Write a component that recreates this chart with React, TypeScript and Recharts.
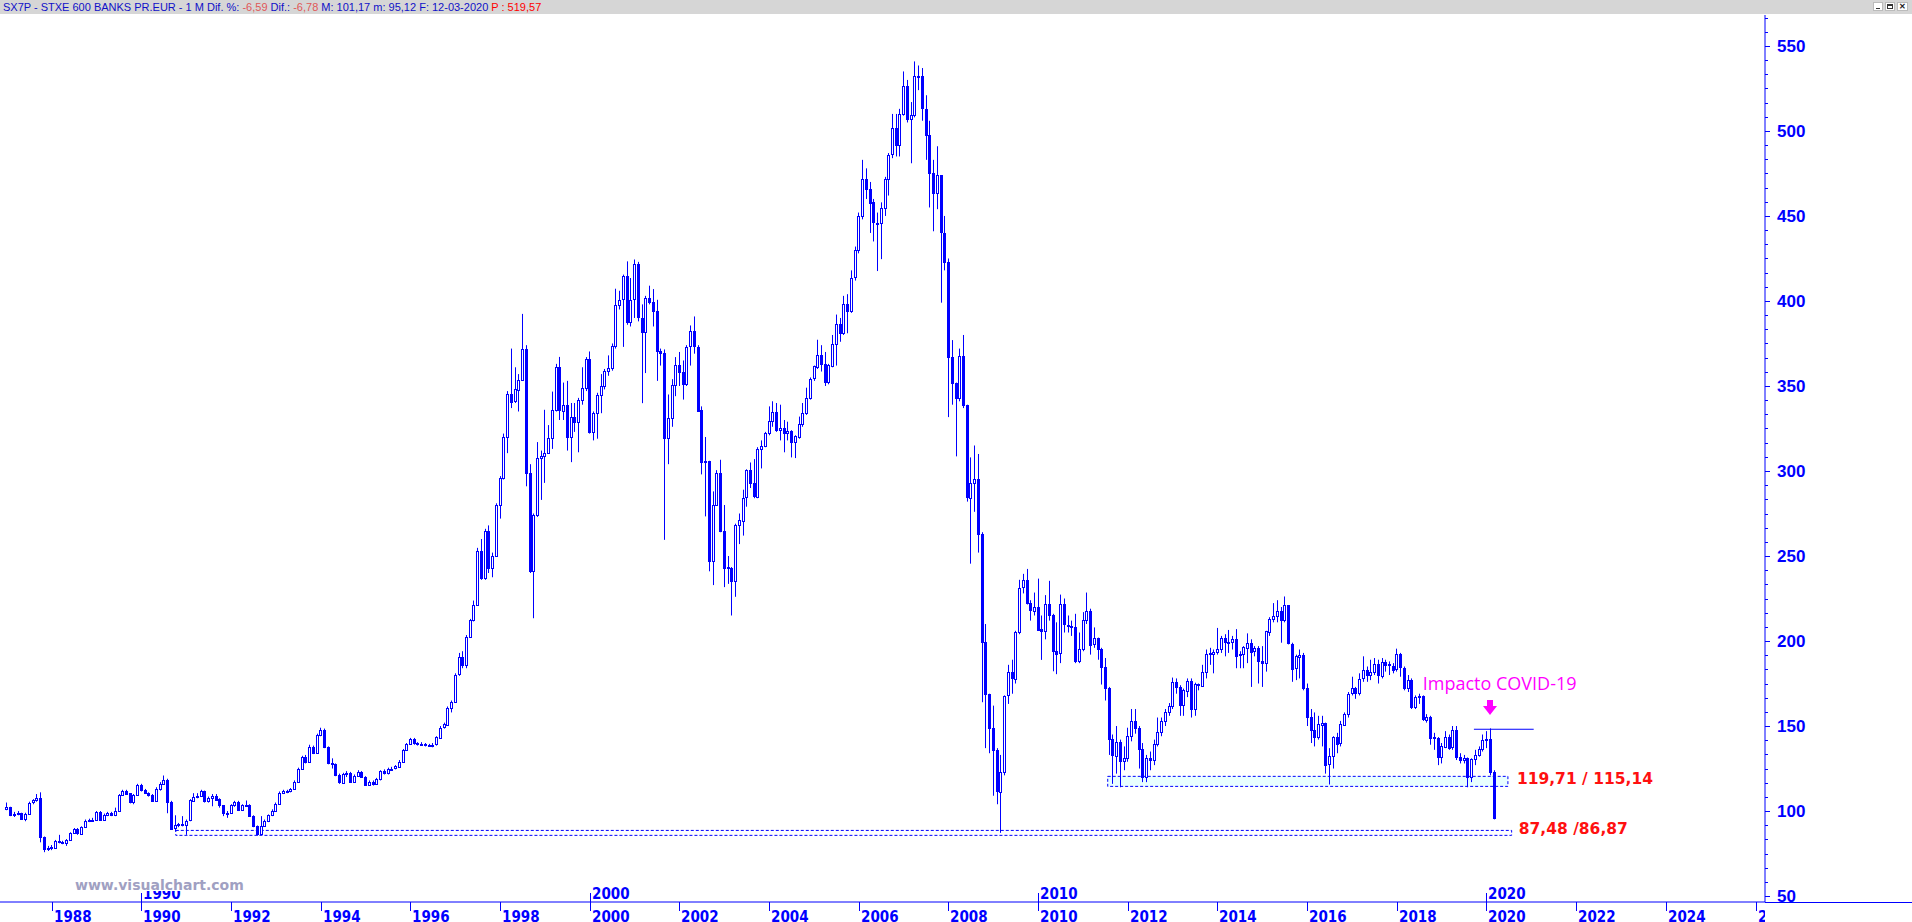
import React from 'react';
import { ComposedChart, Bar, XAxis, YAxis, ReferenceArea, ReferenceLine, ReferenceDot } from 'recharts';

// ---- Monthly closes (Jan 1987 .. Mar 2020) ----
const FIRST_OPEN = 101;
const closes1987_1996 = [
  102.2, 97.7, 98.3, 98.9, 95.6, 98.3, 104.8, 106.2, 107.5, 84.6, 77.7, 78.3,
  78.7, 82.6, 81.8, 81.4, 83.0, 87.1, 89.3, 86.7, 90.7, 94.4, 94.8, 95.0,
  99.5, 95.0, 97.7, 99.1, 97.7, 100.3, 109.5, 112.0, 110.5, 105.4, 109.5, 115.6,
  112.4, 110.9, 109.7, 106.2, 113.0, 116.0, 118.3, 105.6, 89.9, 91.8, 92.4, 92.2,
  94.4, 106.2, 108.5, 109.1, 111.8, 105.8, 107.7, 109.1, 107.0, 103.4, 98.7, 98.9,
  103.6, 105.4, 100.7, 103.6, 103.8, 97.1, 91.1, 86.5, 91.3, 94.0, 97.7, 100.3,
  104.4, 110.7, 111.6, 111.6, 113.0, 117.3, 124.8, 132.0, 129.3, 137.9, 134.4, 144.8,
  147.7, 137.5, 128.1, 127.7, 121.1, 116.7, 122.0, 122.6, 117.5, 120.9, 123.2, 120.3,
  115.8, 117.3, 116.0, 118.7, 123.6, 122.2, 124.8, 125.0, 126.2, 129.1, 136.0, 139.5,
  142.4, 139.9, 139.1, 139.5, 138.7, 138.7, 139.1, 143.4, 149.1, 150.9, 160.7, 164.2,
];
const closes1997_2006 = [
  180.3, 190.5, 186.0, 202.6, 212.4, 221.3, 253.2, 237.1, 264.8, 243.0, 250.1, 280.1,
  296.0, 320.1, 345.4, 340.7, 348.0, 353.6, 371.8, 298.9, 241.1, 274.2, 307.7, 308.9,
  310.7, 319.5, 336.0, 361.1, 335.6, 338.9, 319.9, 331.8, 328.7, 341.8, 348.9, 366.0,
  322.8, 334.2, 344.8, 350.1, 359.0, 360.7, 373.6, 397.8, 400.7, 414.4, 387.6, 400.7,
  421.5, 390.1, 381.7, 401.9, 399.3, 394.0, 370.5, 369.3, 319.5, 331.3, 350.7, 362.5,
  358.5, 351.7, 373.2, 382.1, 373.2, 335.6, 305.2, 305.6, 247.0, 280.1, 298.9, 265.0,
  243.4, 243.0, 235.2, 268.0, 270.9, 284.2, 300.3, 292.9, 285.0, 313.0, 314.8, 322.5,
  329.5, 334.8, 324.3, 325.4, 322.3, 323.5, 317.0, 320.3, 327.8, 334.3, 343.1, 354.3,
  361.5, 368.4, 363.1, 352.3, 362.1, 374.8, 386.6, 381.3, 398.4, 394.1, 413.7, 429.8,
  450, 472, 466, 458, 446, 446, 454.7, 471.7, 486.1, 501.5, 491.7, 510.1,
];
const closes2007_2016 = [
  526.4, 507.1, 509.5, 532.6, 532.3, 513.2, 497.8, 475.4, 463.4, 473.8, 440.0, 423.1,
  367.0, 351.7, 343.1, 367.7, 338.7, 284.6, 293.2, 295.4, 263.0, 199.4, 168.6, 148.6,
  135.7, 111.4, 123.1, 167.7, 181.5, 177.8, 205.5, 231.3, 235.6, 222.2, 217.9, 220.3,
  206.9, 205.8, 221.5, 215.2, 194.0, 192.4, 221.5, 209.7, 209.1, 208.5, 188.5, 195.4,
  212.4, 217.9, 198.1, 201.8, 195.2, 184.6, 172.4, 142.2, 132.6, 140.7, 129.3, 131.3,
  144.2, 153.0, 148.7, 136.4, 119.9, 131.3, 130.3, 139.5, 146.5, 153.0, 158.3, 162.0,
  176.0, 172.8, 162.2, 170.9, 176.5, 160.1, 174.8, 174.0, 182.0, 192.4, 192.8, 193.8,
  195.4, 201.8, 199.5, 199.7, 201.4, 191.5, 192.2, 196.2, 199.1, 193.8, 195.8, 188.1,
  187.0, 205.6, 213.1, 214.6, 217.6, 212.1, 220.9, 198.3, 183.6, 190.9, 191.9, 172.5,
  155.2, 147.8, 143.4, 150.9, 151.9, 127.2, 132.1, 143.4, 139.5, 150.9, 157.2, 168.9,
];
const closes2017_2020 = [
  172.1, 169.3, 177.8, 182.7, 179.7, 181.7, 186.2, 179.7, 187.9, 186.2, 185.6, 183.2,
  192.1, 184.2, 172.3, 177.2, 161.1, 167.0, 167.4, 153.6, 155.6, 143.4, 143.0, 131.7,
  138.0, 143.8, 137.6, 147.8, 131.7, 130.1, 131.0, 119.9, 130.7, 133.2, 136.6, 141.9,
  142.5, 123.2, 96.0,
];

const highs1987_1996 = [
  105, 102.5, 99.5, 100, 99, 99, 105.5, 107, 110, 111, 85, 79.5,
  80, 83, 86, 82.5, 83.5, 87.5, 90, 90, 91, 95, 95.5, 96,
  100, 100, 98.5, 99.5, 99.5, 102, 110, 112.5, 112.5, 110.5, 110, 116,
  116, 113, 111, 110, 114, 117, 120.9, 119, 106, 97.5, 93, 97,
  95, 107, 110.5, 110.5, 112.5, 112, 108.5, 110, 110, 107.5, 103.5, 100,
  104, 106, 106, 104, 106.2, 104, 97.5, 91.5, 97, 95, 98, 101,
  105, 111.5, 112.5, 112.5, 113.5, 118, 125.5, 132.5, 133, 139, 138.5, 145.5,
  149, 148.5, 138, 131, 128, 122, 122.5, 123.5, 123, 121.5, 124, 123.5,
  120.5, 118, 118, 119.5, 124, 124.5, 125.5, 126, 127, 130, 136.5, 140,
  143, 143, 140.5, 140.5, 140, 139.5, 140, 144, 150, 152, 161.5, 165,
];
const highs1997_2006 = [
  181, 193, 194, 203.5, 213, 223.8, 254.8, 260, 266, 268, 252, 281,
  297, 322, 347, 372, 361, 357, 392.4, 374, 304, 275, 317, 312,
  336, 327, 346.7, 363, 367.1, 352, 353, 340, 340, 343, 361, 367,
  370.3, 335, 346, 357, 360, 368, 375, 407.2, 406, 415.5, 423.3, 413.5,
  424.4, 423, 398, 403, 409, 407, 400.7, 372, 371.5, 345, 354, 367,
  370, 365, 374, 385.6, 390.9, 374, 338, 320, 306, 288, 300.5, 306.6,
  280, 250, 243.5, 269, 275, 289, 301, 305, 307, 314, 318, 323,
  338, 341, 340, 339, 330, 329, 324, 321, 332, 340, 349, 355,
  362, 377.2, 374, 370, 363, 380, 392, 390, 403, 404, 418, 432,
  452, 483, 478, 470, 460, 452, 458, 473, 487, 510, 510, 513,
];
const highs2007_2016 = [
  535, 530, 517, 540.9, 538.5, 537, 521, 506, 483, 491, 474, 450,
  425, 377, 352, 372, 380, 339, 308, 315, 310, 264, 210, 169,
  162, 137, 133, 168, 186, 189, 206, 236, 239.5, 242.4, 224, 228.5,
  236.7, 215, 227, 235.4, 216, 211, 227.3, 225, 215, 212, 216, 205,
  217, 228.5, 219, 208, 202, 196, 190, 173, 145, 150, 142, 138,
  149, 160, 160, 150, 140, 133, 135, 142, 155, 155, 160, 163.5,
  178.5, 178, 174, 172, 178, 178, 175.5, 175, 186, 195, 196, 195,
  207.7, 203, 204, 206.5, 203, 207, 194, 197, 204.5, 201, 197, 197,
  197, 206, 214, 222.3, 224, 220, 226.2, 221, 199, 192, 195, 193,
  175, 160, 158, 156, 156, 152, 137, 144, 146, 153, 158, 170,
];
const highs2017_2020 = [
  179, 173, 181, 191, 185, 189, 190, 189, 190, 189, 188, 187,
  195.5, 193, 185, 180, 178, 168, 169, 168, 157, 156, 146, 143.5,
  140, 147, 145, 150, 150, 134, 133, 131.5, 131, 136, 138, 145,
  147, 148.6, 124,
];

const lows1987_1996 = [
  100.5, 97, 96.5, 97.5, 95, 94, 98, 104, 105.5, 81.6, 75.8, 76.5,
  77, 78, 81, 80.5, 79.5, 82.5, 86.5, 86, 86, 90, 93.5, 94,
  94.5, 94.5, 94.5, 97, 97, 97, 100, 109, 110, 104.5, 104, 109,
  111.5, 110, 108.5, 105.5, 106, 112, 115.5, 98.7, 89, 88, 90.5, 91,
  86, 94, 106, 107.5, 108.5, 105, 105, 102.8, 106.5, 102, 97, 96,
  98.5, 102.5, 100, 100, 103, 96.5, 90.5, 85.5, 86, 91, 93.5, 97,
  100, 104, 110, 110.5, 111, 112.5, 117, 124.5, 128, 129, 133.5, 134,
  144, 137, 127.5, 125, 120.5, 116, 116, 120, 117, 117, 120.5, 119.5,
  115.3, 115.5, 115, 115.5, 118, 121.5, 121.5, 124, 124.5, 125.5, 128.5, 135.5,
  139, 139, 138.5, 138.5, 138, 138, 137.5, 138.5, 143, 148.5, 150.5, 158,
];
const lows1997_2006 = [
  164, 179.5, 184, 184, 202, 211.5, 221, 236, 236, 240, 237.5, 249.5,
  272, 295, 310.5, 337, 340, 335, 353, 291, 240, 213.4, 273, 283,
  293, 310, 313, 335, 330, 330, 312, 305.2, 323, 311, 339, 347,
  322, 318, 319, 334, 348, 356, 359, 372, 395, 373, 386, 385,
  390, 388, 339.9, 357.6, 398, 385, 353, 362, 259.5, 304, 326, 344,
  350, 342, 350, 362, 369, 335, 298, 273.3, 241, 232.9, 280, 264,
  231.7, 233.6, 215, 226, 257, 262, 279, 290, 284, 284, 301.5, 314,
  321, 326, 323, 318, 311, 318, 308, 307.6, 319, 326, 333, 342,
  353, 360, 358.5, 350, 351, 361, 362, 376, 380, 381, 393, 412,
  428, 448, 460, 440, 435, 417.6, 424.6, 450, 462, 484, 485, 485,
];
const lows2007_2016 = [
  509, 505, 481, 508, 524, 506, 483, 455, 441, 454, 399, 418,
  331.7, 339, 308.6, 341, 337, 282, 245.5, 276, 252, 164, 137, 134,
  109, 104, 87.2, 121, 163, 169, 175, 204, 228, 221.5, 212, 215,
  206, 188.9, 201, 212, 182.2, 180.5, 187, 205, 205, 203, 187, 187,
  194, 210, 192, 196, 189, 174.4, 165, 133, 116, 122, 114, 124,
  129, 141, 145.5, 125, 117, 117, 124, 127, 138, 144, 150, 156,
  160, 169, 156, 156, 167, 155, 156, 171, 173, 178, 186, 181,
  192, 193, 191, 193, 195, 184, 184, 184, 187, 173, 191, 175,
  173, 182, 203, 211, 211, 199, 211, 198, 176, 177, 178, 171,
  150, 140, 138, 142, 138, 122, 115.6, 125, 134, 138, 150, 155,
];
const lows2017_2020 = [
  168, 166, 168, 176, 176, 177, 180, 175, 178, 182, 180, 181,
  182, 179, 171, 170, 160, 160, 163, 153, 152, 139, 136, 127,
  128, 137, 136, 136, 130, 128, 128, 114, 117, 127, 132, 135,
  137, 121, 95.1,
];

// ---- Axes ----
const FIRST_YEAR = 1987;
const xTickYears = [1988, 1990, 1992, 1994, 1996, 1998, 2000, 2002, 2004, 2006, 2008, 2010, 2012, 2014, 2016, 2018, 2020, 2022, 2024, 2026];
const decadeYears = [1990, 2000, 2010, 2020];
const X_DOMAIN = [-1.95, 470.4];
const Y_DOMAIN = [46.5, 568.2];
const yMajorStep = 50;
const yMinorCount = 6;

// ---- Annotations ----
const zoneStart = [294.5, 45.1];
const zoneEnd = [401.6, 402.6];
const zoneLow = [114.5, 85.7];
const zoneHigh = [120.4, 88.6];
const zoneFill = ['#e8ffff', '#ffffff'];
const zoneLabels = ['119,71 / 115,14', '87,48 /86,87'];
const zoneLabelX = [404.0, 404.5];
const zoneLabelY = [115.9, 86.5];
const covidText = 'Impacto COVID-19';
const covidTextPos = { x: 378.8, y: 171.2 };
const covidArrowPos = { x: 396.8, y: 156.5 };
const covidLine = { x1: 392.5, x2: 408.5, y: 148.1 };

const closes = [...closes1987_1996, ...closes1997_2006, ...closes2007_2016, ...closes2017_2020];
const highs = [...highs1987_1996, ...highs1997_2006, ...highs2007_2016, ...highs2017_2020];
const lows = [...lows1987_1996, ...lows1997_2006, ...lows2007_2016, ...lows2017_2020];

const data = closes.map((c, i) => {
  const o = i === 0 ? FIRST_OPEN : closes[i - 1];
  const h = Math.max(highs[i], o, c);
  const l = Math.min(lows[i], o, c);
  return { t: i, o, h, l, c, range: [l, h] };
});

const xTicks = xTickYears.map((y) => (y - FIRST_YEAR) * 12);
const yTicks: number[] = [];
for (let k = 0; ; k++) {
  const v = 50 + (k * yMajorStep) / yMinorCount;
  if (v > Y_DOMAIN[1]) break;
  yTicks.push(v);
}

const BLUE = '#0000ff';

const Candle = (props: any) => {
  const { x, y, width, height, payload } = props;
  if (!payload || height == null) return null;
  const { o, h, l, c } = payload;
  const span = h - l || 1;
  const ppu = height / span;
  const yOf = (v: number) => y + (h - v) * ppu;
  const px = Math.floor(x + width / 2) + 0.5;
  const top = yOf(Math.max(o, c));
  const bot = yOf(Math.min(o, c));
  const up = c >= o;
  return (
    <g>
      <line x1={px} x2={px} y1={y} y2={y + height} stroke={BLUE} strokeWidth={1} />
      <rect x={px - 1} y={Math.round(top) + 0.5} width={2} height={Math.max(Math.round(bot - top), 1)}
        fill={up ? '#ffffff' : BLUE} stroke={BLUE} strokeWidth={1} />
    </g>
  );
};

const XTick = (props: any) => {
  const { x, y, payload } = props;
  const idx = payload.value;
  const year = FIRST_YEAR + Math.round(idx / 12);
  const isDecade = decadeYears.includes(year);
  const px = Math.floor(x) + 0.5;
  const font = { fontFamily: "'Liberation Sans Narrow', 'DejaVu Sans Condensed', sans-serif", fontWeight: 700, fontSize: 15, fill: BLUE };
  return (
    <g>
      <defs>
        <clipPath id={`xclip-${idx}`}>
          <rect x={0} y={0} width={1765} height={930} />
        </clipPath>
      </defs>
      <g clipPath={`url(#xclip-${idx})`}>
        <line x1={px} x2={px} y1={y} y2={y + 9} stroke={BLUE} strokeWidth={1} />
        <text x={px + 1.5} y={y + 20} {...font}>{year}</text>
        {isDecade && (
          <>
            <line x1={px} x2={px} y1={y - 9} y2={y} stroke={BLUE} strokeWidth={1} />
            <text x={px + 1.5} y={y - 3} {...font}>{year}</text>
          </>
        )}
      </g>
    </g>
  );
};

const YTick = (props: any) => {
  const { x, y, payload } = props;
  const v = payload.value;
  const major = Math.abs(v / yMajorStep - Math.round(v / yMajorStep)) < 0.001;
  const py = Math.round(y) + 0.5;
  return (
    <g>
      <defs>
        <clipPath id="yclip">
          <rect x={1700} y={0} width={212} height={902} />
        </clipPath>
      </defs>
      <line x1={x} x2={x + (major ? 5 : 3)} y1={py} y2={py} stroke={BLUE} strokeWidth={1} />
      {major && (
        <text x={x + 12} y={y + 6} clipPath="url(#yclip)" fontFamily="'Liberation Sans', Arial, sans-serif"
          fontWeight={700} fontSize={17} fill={BLUE}>{Math.round(v)}</text>
      )}
    </g>
  );
};

const ZoneLabel = (text: string) => (p: any) => (
  <text x={p.cx} y={p.cy} fontFamily="'DejaVu Sans', sans-serif" fontWeight={700} fontSize={15.5} fill="#ff1010">{text}</text>
);

const CovidText = (p: any) => (
  <text x={p.cx} y={p.cy} fontFamily="'Open Sans', sans-serif" fontSize={18} fill="#ff00ff">{covidText}</text>
);

const CovidArrow = (p: any) => {
  const cx = Math.round(p.cx);
  const cy = Math.round(p.cy);
  return (
    <polygon
      points={`${cx - 3},${cy - 15} ${cx + 3},${cy - 15} ${cx + 3},${cy - 9} ${cx + 7},${cy - 9} ${cx},${cy} ${cx - 7},${cy - 9} ${cx - 3},${cy - 9}`}
      fill="#ff00ff"
    />
  );
};

export default function App() {
  return (
    <div style={{ position: 'absolute', left: 0, top: 0, width: 1912, height: 922, background: '#ffffff', overflow: 'hidden' }}>
      <ComposedChart width={1912} height={922} data={data} margin={{ top: 15, right: 0, bottom: 0, left: 0 }}>
        <XAxis dataKey="t" type="number" domain={X_DOMAIN} allowDataOverflow ticks={xTicks} interval={0}
          height={20} axisLine={{ stroke: BLUE }} tickLine={false} tickSize={0} tickMargin={0} tick={<XTick />} />
        <YAxis orientation="right" type="number" domain={Y_DOMAIN} allowDataOverflow ticks={yTicks} interval={0}
          width={147} axisLine={{ stroke: BLUE }} tickLine={false} tickSize={0} tickMargin={0} tick={<YTick />} />
        {zoneStart.map((s, k) => (
          <ReferenceArea key={`z${k}`} x1={s} x2={zoneEnd[k]} y1={zoneLow[k]} y2={zoneHigh[k]}
            stroke={BLUE} strokeDasharray="3 2" fill={zoneFill[k]} fillOpacity={1} ifOverflow="visible" />
        ))}
        <Bar dataKey="range" barSize={3} shape={<Candle />} isAnimationActive={false} />
        <ReferenceLine segment={[{ x: covidLine.x1, y: covidLine.y }, { x: covidLine.x2, y: covidLine.y }]}
          stroke={BLUE} strokeWidth={1} ifOverflow="visible" />
        <ReferenceDot x={covidTextPos.x} y={covidTextPos.y} r={0} shape={CovidText} ifOverflow="visible" />
        <ReferenceDot x={covidArrowPos.x} y={covidArrowPos.y} r={0} shape={CovidArrow} ifOverflow="visible" />
        {zoneLabels.map((t, k) => (
          <ReferenceDot key={`l${k}`} x={zoneLabelX[k]} y={zoneLabelY[k]} r={0} shape={ZoneLabel(t)} ifOverflow="visible" />
        ))}
      </ComposedChart>
      <div style={{
        position: 'absolute', left: 0, top: 0, width: 1912, height: 14, background: '#d6d6d6',
        fontFamily: "'Liberation Sans', Arial, sans-serif", fontSize: 11, lineHeight: '14px', whiteSpace: 'pre',
        color: '#1010c8', paddingLeft: 3, boxSizing: 'border-box',
      }}>
        <span>SX7P - STXE 600 BANKS PR.EUR - 1 M Dif. %: </span>
        <span style={{ color: '#e05858' }}>-6,59</span>
        <span> Dif.: </span>
        <span style={{ color: '#e05858' }}>-6,78</span>
        <span> M: 101,17 m: 95,12 F: 12-03-2020 </span>
        <span style={{ color: '#ff0000' }}>P : 519,57</span>
        <div style={{ position: 'absolute', right: 4, top: 2, display: 'flex', gap: 2 }}>
          <div style={{ width: 10, height: 9, background: '#fff', border: '1px solid #bbb', boxSizing: 'border-box', position: 'relative' }}>
            <div style={{ position: 'absolute', left: 2, right: 2, bottom: 1, height: 1, background: '#333' }} />
          </div>
          <div style={{ width: 10, height: 9, background: '#fff', border: '1px solid #bbb', boxSizing: 'border-box', position: 'relative' }}>
            <div style={{ position: 'absolute', left: 1, right: 1, top: 1, bottom: 1, border: '1px solid #333', borderTopWidth: 2 }} />
          </div>
          <div style={{ width: 11, height: 9, background: '#fff', border: '1px solid #bbb', boxSizing: 'border-box', fontSize: 8, lineHeight: '7px', textAlign: 'center', color: '#222', fontWeight: 700 }}>✕</div>
        </div>
      </div>
      <div style={{ position: 'absolute', left: 1765, top: 902, width: 147, height: 1, background: BLUE }} />
      <div style={{
        position: 'absolute', left: 75, top: 878, height: 13, fontFamily: "'DejaVu Sans', sans-serif", fontWeight: 700,
        fontSize: 14, lineHeight: '14px', color: '#a0a0c2', whiteSpace: 'nowrap', background: '#ffffff', overflow: 'hidden',
      }}>www.visualchart.com</div>
    </div>
  );
}
